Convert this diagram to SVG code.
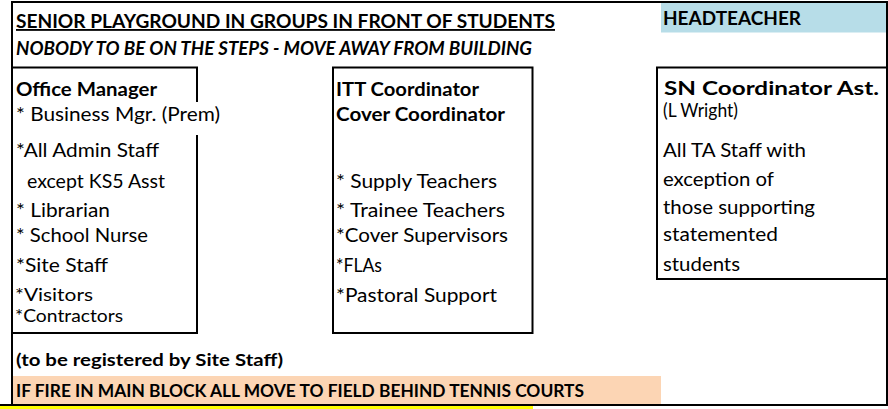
<svg xmlns="http://www.w3.org/2000/svg" width="888" height="409" viewBox="0 0 888 409">
<style>
text{font-family:Lato,"Liberation Sans",sans-serif;font-size:19.5px;fill:#000}
.b{font-weight:bold;font-size:19px}
.t{font-weight:bold;font-size:18.5px}
.bi{font-weight:bold;font-style:italic;font-size:18px}
.h{font-weight:bold;font-size:18px}
.f{font-weight:bold;font-size:16.5px}
.r{font-weight:bold;font-size:17.5px}
.s{font-size:17.5px}
.w{font-size:18.5px}
.box{fill:none;stroke:#000;stroke-width:2}
</style>
<rect x="0" y="0" width="888" height="409" fill="#fff"/>
<rect x="661" y="2" width="225" height="30.5" fill="#b7dde8"/>
<rect x="13" y="376" width="648" height="28" fill="#fcd5b4"/>
<rect x="0" y="406" width="533" height="3" fill="#ffff00"/>
<g id="frame">
<rect class="box" x="12" y="2" width="875" height="403"/>
<line x1="0" y1="405" x2="12" y2="405" stroke="#000" stroke-width="2"/>
</g>
<g id="header">
<text class="t" x="16" y="28" text-decoration="underline" textLength="539" lengthAdjust="spacingAndGlyphs">SENIOR PLAYGROUND IN GROUPS IN FRONT OF STUDENTS</text>
<text class="bi" x="16" y="55" textLength="516" lengthAdjust="spacingAndGlyphs">NOBODY TO BE ON THE STEPS - MOVE AWAY FROM BUILDING</text>
</g>
<g id="headteacher">
<text class="h" x="663" y="25" textLength="138" lengthAdjust="spacingAndGlyphs">HEADTEACHER</text>
</g>
<g id="office-manager">
<rect class="box" x="12" y="67.5" width="185" height="265.5"/>
<rect x="192" y="102" width="10" height="33" fill="#fff"/>
<text class="b" x="16" y="96" textLength="141" lengthAdjust="spacingAndGlyphs">Office Manager</text>
<text x="16" y="121" textLength="204" lengthAdjust="spacingAndGlyphs">* Business Mgr. (Prem)</text>
<text x="16" y="157" textLength="143" lengthAdjust="spacingAndGlyphs">*All Admin Staff</text>
<text x="27" y="188" textLength="138" lengthAdjust="spacingAndGlyphs">except KS5 Asst</text>
<text x="16" y="217" textLength="94" lengthAdjust="spacingAndGlyphs">* Librarian</text>
<text x="16" y="242" textLength="132" lengthAdjust="spacingAndGlyphs">* School Nurse</text>
<text x="16" y="272" textLength="92" lengthAdjust="spacingAndGlyphs">*Site Staff</text>
<text class="s" x="15" y="301" textLength="78" lengthAdjust="spacingAndGlyphs">*Visitors</text>
<text class="s" x="15" y="322" textLength="108" lengthAdjust="spacingAndGlyphs">*Contractors</text>
</g>
<g id="itt-coordinator">
<rect class="box" x="333" y="67.5" width="199.5" height="265.5"/>
<text class="b" x="336" y="96" textLength="143" lengthAdjust="spacingAndGlyphs">ITT Coordinator</text>
<text class="b" x="336" y="121" textLength="169" lengthAdjust="spacingAndGlyphs">Cover Coordinator</text>
<text x="336" y="188" textLength="161" lengthAdjust="spacingAndGlyphs">* Supply Teachers</text>
<text x="336" y="217" textLength="169" lengthAdjust="spacingAndGlyphs">* Trainee Teachers</text>
<text x="336" y="242" textLength="172" lengthAdjust="spacingAndGlyphs">*Cover Supervisors</text>
<text x="336" y="272" textLength="46" lengthAdjust="spacingAndGlyphs">*FLAs</text>
<text x="336" y="302" textLength="161" lengthAdjust="spacingAndGlyphs">*Pastoral Support</text>
</g>
<g id="sn-coordinator">
<rect class="box" x="657" y="67.5" width="230" height="211.5"/>
<text class="b" x="664" y="95" textLength="215" lengthAdjust="spacingAndGlyphs">SN Coordinator Ast.</text>
<text class="w" x="663" y="117" textLength="75" lengthAdjust="spacingAndGlyphs">(L Wright)</text>
<text x="663" y="157" textLength="143" lengthAdjust="spacingAndGlyphs">All TA Staff with</text>
<text x="663" y="186" textLength="111" lengthAdjust="spacingAndGlyphs">exception of</text>
<text x="663" y="214" textLength="152" lengthAdjust="spacingAndGlyphs">those supporting</text>
<text x="663" y="241" textLength="115" lengthAdjust="spacingAndGlyphs">statemented</text>
<text x="663" y="271" textLength="77" lengthAdjust="spacingAndGlyphs">students</text>
</g>
<g id="footer">
<text class="r" x="16" y="366" textLength="267" lengthAdjust="spacingAndGlyphs">(to be registered by Site Staff)</text>
<text class="f" x="16" y="397" textLength="568" lengthAdjust="spacingAndGlyphs">IF FIRE IN MAIN BLOCK ALL MOVE TO FIELD BEHIND TENNIS COURTS</text>
</g>
<g id="connectors"></g>
</svg>
